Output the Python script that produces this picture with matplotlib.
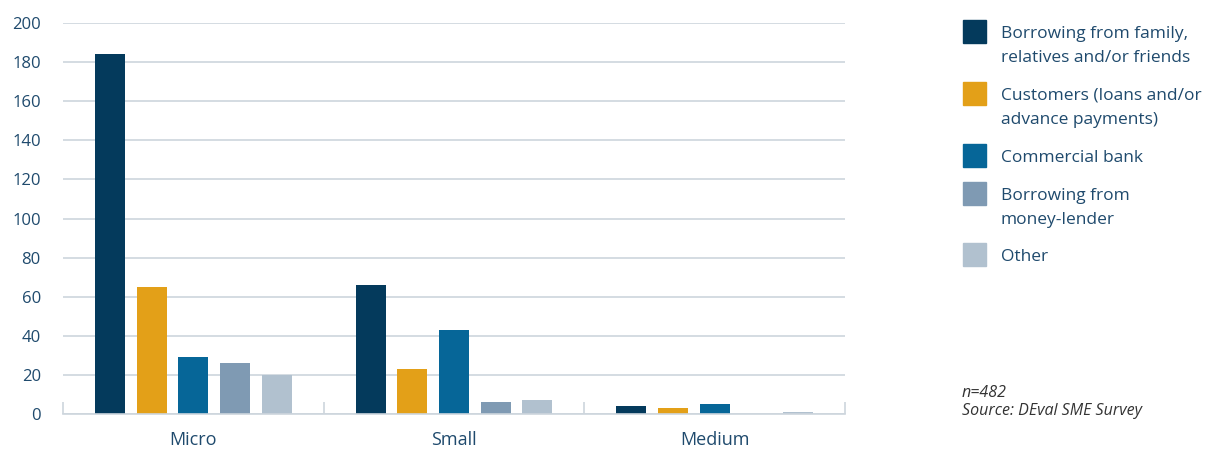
import matplotlib
matplotlib.use("Agg")
import matplotlib.pyplot as plt
from matplotlib.patches import Rectangle
import numpy as np

# data
groups = ["Micro", "Small", "Medium"]
series = [
    "Borrowing from family,\nrelatives and/or friends",
    "Customers (loans and/or\nadvance payments)",
    "Commercial bank",
    "Borrowing from\nmoney-lender",
    "Other",
]
family = [184, 66, 4]
customers = [65, 23, 3]
bank = [29, 43, 5]
money_lender = [26, 6, 0]
other = [20, 7, 1]
values = [family, customers, bank, money_lender, other]
yticks = [0, 20, 40, 60, 80, 100, 120, 140, 160, 180, 200]

colors = ["#043a5c", "#e3a018", "#066698", "#7f9ab3", "#b1c1cf"]
text_color = "#1f4a6d"
grid_color = "#cdd5dd"

plt.rcParams["font.family"] = ["Open Sans", "DejaVu Sans"]

fig = plt.figure(figsize=(12.1, 4.5), dpi=100)
ax = fig.add_axes([63 / 1210, 1 - 414 / 450, (845 - 63) / 1210, (414 - 23) / 450])

bar_w = 0.115
step = 0.16
centers = np.arange(len(groups)) + 0.5
for i, vals in enumerate(values):
    offs = (i - 2) * step
    ax.bar(centers + offs, vals, width=bar_w, color=colors[i], zorder=3)

ax.set_xlim(0, 3)
ax.set_ylim(0, 200)
ax.set_yticks(yticks)
ax.set_yticklabels([str(t) for t in yticks])
ax.grid(axis="y", color=grid_color, linewidth=1.2, zorder=0)
ax.set_xticks(centers)
ax.set_xticklabels(groups)
ax.set_xticks([0, 1, 2, 3], minor=True)
ax.tick_params(axis="x", which="major", length=0, pad=12, labelsize=13, labelcolor=text_color)
ax.tick_params(axis="x", which="minor", direction="in", length=9, width=1.2, color=grid_color)
ax.tick_params(axis="y", length=0, pad=16, labelsize=12, labelcolor=text_color)
for s in ["top", "right", "left"]:
    ax.spines[s].set_visible(False)
ax.spines["bottom"].set_color(grid_color)
ax.spines["bottom"].set_linewidth(1.2)
ax.spines["bottom"].set_zorder(4)

# legend drawn by hand, squares aligned with first text line
W, H = 1210, 450
leg_tops = [20, 82, 144, 182, 243]
for top, label, c in zip(leg_tops, series, colors):
    fig.add_artist(Rectangle((963 / W, 1 - (top + 23) / H), 23 / W, 23 / H,
                             transform=fig.transFigure, color=c))
    fig.text(1001 / W, 1 - (top + 6) / H, label, ha="left", va="top",
             fontsize=12.5, color=text_color, linespacing=1.65)

fig.text(962 / W, 1 - 397 / H, "n=482", ha="left", va="baseline",
         fontsize=11.5, style="italic", color="#333333")
fig.text(962 / W, 1 - 415 / H, "Source: DEval SME Survey", ha="left", va="baseline",
         fontsize=11.5, style="italic", color="#333333")

fig.savefig("out.png", dpi=100)
